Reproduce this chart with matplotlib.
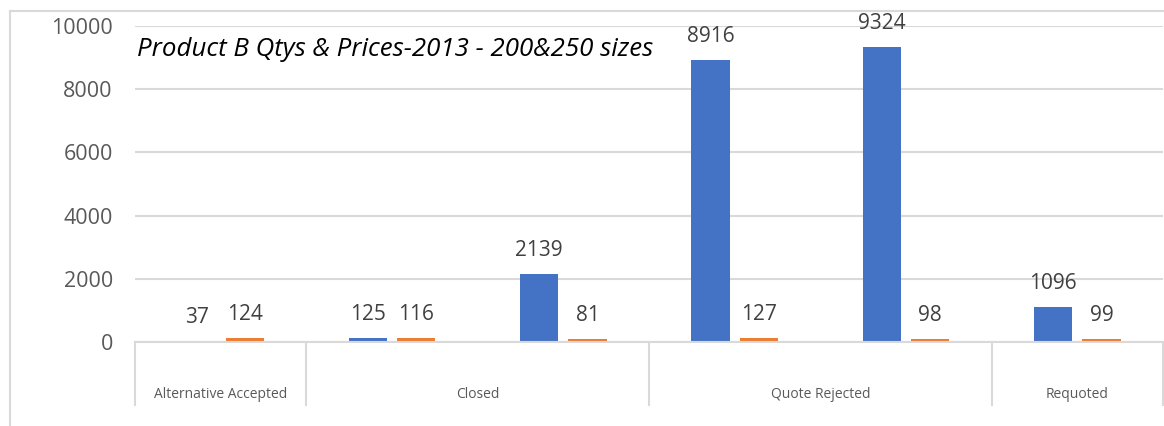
import matplotlib
matplotlib.use("Agg")
import matplotlib.pyplot as plt
from matplotlib.lines import Line2D

# Outer categories and how many sub-groups each one spans
categories = ["Alternative Accepted", "Closed", "Quote Rejected", "Requoted"]
group_counts = [1, 2, 2, 1]

# Values for each sub-group (left to right)
qty = [37, 125, 2139, 8916, 9324, 1096]
price = [124, 116, 81, 127, 98, 99]

title = "Product B Qtys & Prices-2013 - 200&250 sizes"
yticks = [0, 2000, 4000, 6000, 8000, 10000]

BLUE = "#4472C4"
ORANGE = "#ED7D31"
GRID = "#D9D9D9"
TXT = "#595959"
LBL = "#404040"
FONT = "Open Sans"

W, H = 1164, 426
fig = plt.figure(figsize=(W / 100, H / 100), dpi=100)
ax = fig.add_axes([135 / W, (H - 342) / H, (1163 - 135) / W, 316 / H])

n = len(qty)
x = list(range(n))
bw = 0.2245
off = 0.141

b1 = ax.bar([i - off for i in x], qty, width=bw, color=BLUE, zorder=3)
b2 = ax.bar([i + off for i in x], price, width=bw, color=ORANGE, zorder=3)

for bars, vals in ((b1, qty), (b2, price)):
    for r, v in zip(bars, vals):
        ax.annotate(f"{v}", (r.get_x() + r.get_width() / 2, v),
                    xytext=(0, 13), textcoords="offset points",
                    ha="center", va="baseline", fontsize=15,
                    family=FONT, color=LBL, zorder=4)

ax.set_xlim(-0.5, n - 0.5)
ax.set_ylim(0, 10000)
ax.set_yticks(yticks)
ax.set_yticklabels([str(t) for t in yticks], fontsize=15.5, family=FONT, color=TXT)
ax.tick_params(axis="y", length=0, pad=16)
ax.set_xticks([])
ax.yaxis.grid(True, color=GRID, linewidth=1.5, zorder=0)
for s in ("left", "right", "top"):
    ax.spines[s].set_visible(False)
ax.spines["bottom"].set_color(GRID)
ax.spines["bottom"].set_linewidth(1.5)
ax.spines["bottom"].set_zorder(5)

# Category axis: separators and centred outer labels
tr = ax.get_xaxis_transform()
pos = -0.5
bounds = [pos]
for c in group_counts:
    pos += c
    bounds.append(pos)
for b in bounds:
    ax.add_line(Line2D([b, b], [0, -0.2], transform=tr, color=GRID,
                       linewidth=1.5, clip_on=False))
for name, lo, hi in zip(categories, bounds[:-1], bounds[1:]):
    ax.text((lo + hi) / 2, -0.165, name, transform=tr, ha="center",
            va="center", fontsize=10, family=FONT, color=TXT)

# Chart title inside the plot area
fig.text(137 / W, (H - 50) / H, title, fontsize=18.6, family=FONT,
         style="italic", color="black", ha="left", va="center")

# Chart border
fig.add_artist(Line2D([10 / W, 10 / W], [0, (H - 11) / H], color=GRID,
                      linewidth=1.5, transform=fig.transFigure))
fig.add_artist(Line2D([10 / W, 1], [(H - 11) / H, (H - 11) / H], color=GRID,
                      linewidth=1.5, transform=fig.transFigure))

fig.savefig("out.png", dpi=100)
